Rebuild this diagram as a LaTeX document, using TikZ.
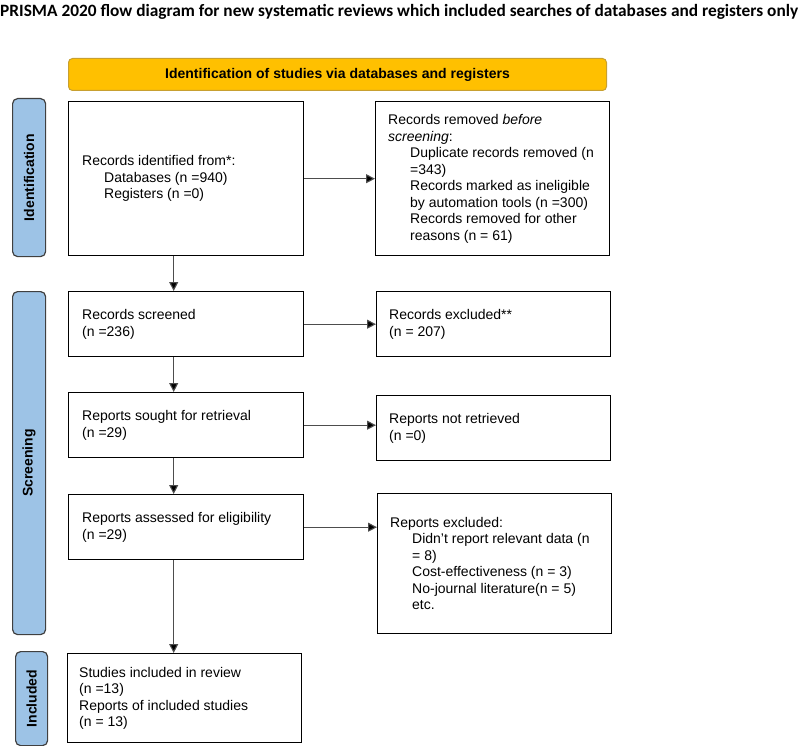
\documentclass[tikz,border=0pt]{standalone}
\usepackage{graphicx}
\usepackage{fontspec}
\setmainfont{Liberation Sans}
\newfontfamily\titlefont{Carlito}
\usetikzlibrary{arrows.meta}
\definecolor{sidebl}{HTML}{9DC3E6}
\definecolor{sidebd}{HTML}{404040}
\definecolor{gold}{HTML}{FFC000}
\definecolor{goldbd}{HTML}{C8A030}
\definecolor{arrgray}{HTML}{4D4D4D}
\begin{document}
\begin{tikzpicture}[x=1pt,y=-1pt,
  box/.style={draw=black, line width=1.4pt, fill=white, anchor=north west, inner sep=0pt},
  txt/.style={anchor=west, align=left, inner sep=0pt, font=\fontsize{14pt}{16.5pt}\selectfont},
  side/.style={draw=sidebd, fill=sidebl, line width=1.2pt, rounded corners=5pt, anchor=north west, inner sep=0pt},
  sidelab/.style={rotate=90, inner sep=0pt, font=\bfseries\fontsize{14pt}{16pt}\selectfont},
  arr/.style={draw=arrgray, line width=1.1pt, -{Triangle[length=9pt,width=9pt,fill=black]}}]
\useasboundingbox (0,0) rectangle (800,746);
\newcommand{\ind}{\hspace*{22pt}}
% title
\node[anchor=west, inner sep=0pt] (title) at (0,12) {\resizebox{798pt}{!}{\titlefont\bfseries\fontsize{19.5pt}{22pt}\selectfont PRISMA 2020 flow diagram for new systematic reviews which included searches of databases and registers only}};
% header
\node[draw=goldbd, fill=gold, rounded corners=4pt, line width=1pt, minimum width=538pt, minimum height=32pt, anchor=north west, inner sep=0pt, font=\bfseries\fontsize{14pt}{16pt}\selectfont] (hdr) at (68,58) {Identification of studies via databases and registers};
% side bars
\node[side, minimum width=33pt, minimum height=158pt] (s1) at (12,98) {};
\node[sidelab] (l1) at (s1.center) {Identification};
\node[side, minimum width=33pt, minimum height=343pt] (s2) at (12,291) {};
\node[sidelab] (l2) at (s2.center) {Screening};
\node[side, minimum width=32pt, minimum height=94pt] (s3) at (15,651) {};
\node[sidelab] (l3) at (s3.center) {Included};
% left boxes
\node[box, minimum width=235pt, minimum height=154pt] (b1) at (68,101) {};
\node[txt] (t1) at ([xshift=14pt]b1.west) {Records identified from*:\\\ind Databases (n =940)\\\ind Registers (n =0)};
\node[box, minimum width=235pt, minimum height=65pt] (b3) at (68,291) {};
\node[txt] (t3) at ([xshift=14pt]b3.west) {Records screened\\(n =236)};
\node[box, minimum width=235pt, minimum height=65pt] (b4) at (68,392) {};
\node[txt] (t4) at ([xshift=14pt]b4.west) {Reports sought for retrieval\\(n =29)};
\node[box, minimum width=235pt, minimum height=65pt] (b5) at (68,494) {};
\node[txt] (t5) at ([xshift=14pt]b5.west) {Reports assessed for eligibility\\(n =29)};
\node[box, minimum width=234pt, minimum height=89pt] (b6) at (67,653) {};
\node[txt] (t6) at ([xshift=12pt]b6.west) {Studies included in review\\(n =13)\\Reports of included studies\\(n = 13)};
% right boxes
\node[box, minimum width=234pt, minimum height=154pt] (b2) at (375,101) {};
\node[txt] (t2) at ([xshift=13pt]b2.west) {Records removed \textit{before}\\\textit{screening}:\\\ind Duplicate records removed (n\\\ind =343)\\\ind Records marked as ineligible\\\ind by automation tools (n =300)\\\ind Records removed for other\\\ind reasons (n = 61)};
\node[box, minimum width=234pt, minimum height=65pt] (e1) at (376,291) {};
\node[txt] (te1) at ([xshift=13pt]e1.west) {Records excluded**\\(n = 207)};
\node[box, minimum width=234pt, minimum height=65pt] (e2) at (376,395) {};
\node[txt] (te2) at ([xshift=13pt]e2.west) {Reports not retrieved\\(n =0)};
\node[box, minimum width=234pt, minimum height=140pt] (e3) at (377,493) {};
\node[txt] (te3) at ([xshift=13pt]e3.west) {Reports excluded:\\\ind Didn’t report relevant data (n\\\ind = 8)\\\ind Cost-effectiveness (n = 3)\\\ind No-journal literature(n = 5)\\\ind etc.};
% arrows
\draw[arr] (b1.east) -- (b1.east -| b2.west);
\draw[arr] (b3.east) -- (b3.east -| e1.west);
\draw[arr] (b4.east) -- (b4.east -| e2.west);
\draw[arr] (b5.east) -- (b5.east -| e3.west);
\draw[arr] ([xshift=-12.5pt]b1.south) -- ([xshift=-12.5pt]b1.south |- b3.north);
\draw[arr] ([xshift=-12.5pt]b3.south) -- ([xshift=-12.5pt]b3.south |- b4.north);
\draw[arr] ([xshift=-12.5pt]b4.south) -- ([xshift=-12.5pt]b4.south |- b5.north);
\draw[arr] ([xshift=-12.5pt]b5.south) -- ([xshift=-12.5pt]b5.south |- b6.north);
\end{tikzpicture}
\end{document}
